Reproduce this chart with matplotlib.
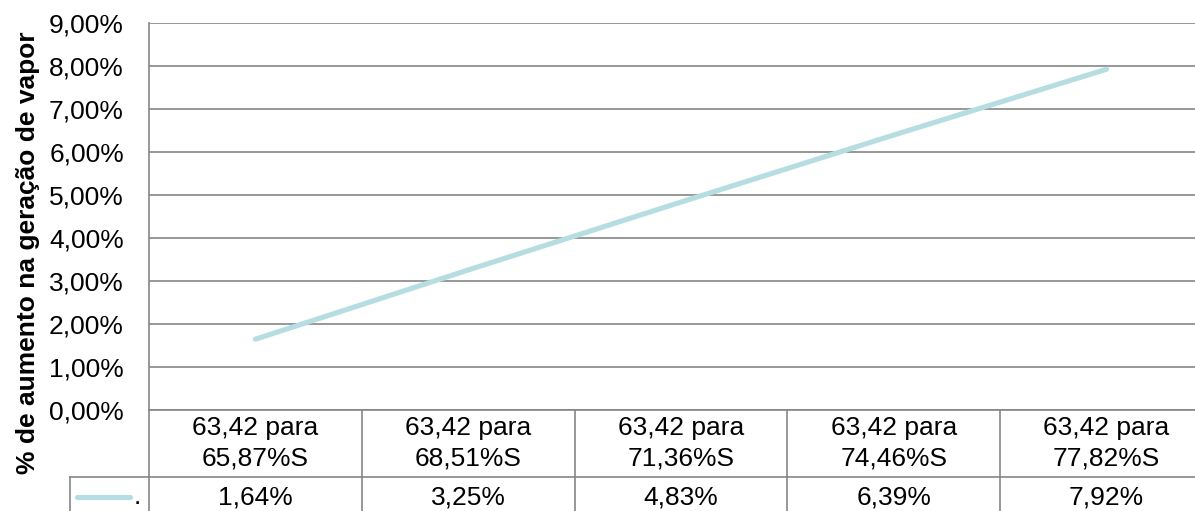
import matplotlib.pyplot as plt
from matplotlib.lines import Line2D
import matplotlib.transforms as mtransforms

plt.rcParams['font.family'] = ['Liberation Sans', 'DejaVu Sans']

# Dados
categorias = ['63,42 para\n65,87%S', '63,42 para\n68,51%S', '63,42 para\n71,36%S',
              '63,42 para\n74,46%S', '63,42 para\n77,82%S']
aumento = [1.64, 3.25, 4.83, 6.39, 7.92]
y_ticks = [0, 1, 2, 3, 4, 5, 6, 7, 8, 9]

cor_linha = '#b6dde1'
cor_grade = '#868686'
fs = 19

fig = plt.figure(figsize=(11.95, 5.11), dpi=100)
ax = fig.add_axes([149 / 1195, 1 - 409.7 / 511, 1064 / 1195, 386.9 / 511])

x = list(range(len(aumento)))
ax.plot(x, aumento, color=cor_linha, lw=3.7, solid_capstyle='round', zorder=3)

ax.set_xlim(-0.5, len(aumento) - 0.5)
ax.set_ylim(0, 9)
ax.set_yticks(y_ticks)
ax.set_yticklabels([f'{v:.2f}'.replace('.', ',') + '%' for v in y_ticks], fontsize=fs)
ax.tick_params(axis='y', length=0, pad=18)
ax.set_xticks([])
ax.grid(axis='y', color=cor_grade, lw=1.2)
ax.set_axisbelow(True)
for lado in ['top', 'right']:
    ax.spines[lado].set_visible(False)
for lado in ['left', 'bottom']:
    ax.spines[lado].set_color(cor_grade)
    ax.spines[lado].set_linewidth(1.2)

ax.set_ylabel('% de aumento na geração de vapor', fontsize=fs, fontweight='bold')
ax.yaxis.set_label_coords(-0.102, 0.405)

# Tabela de dados abaixo do gráfico
trans = mtransforms.blended_transform_factory(ax.transData, ax.transAxes)
y_linha = -0.174
y_fundo = -0.30
for i in range(len(aumento) + 1):
    ax.add_line(Line2D([i - 0.5, i - 0.5], [0, y_fundo], transform=trans,
                       color=cor_grade, lw=1.2, clip_on=False))
x_legenda = -0.871
ax.add_line(Line2D([x_legenda, len(aumento) - 0.5], [y_linha, y_linha], transform=trans,
                   color=cor_grade, lw=1.2, clip_on=False))
ax.add_line(Line2D([x_legenda, x_legenda], [y_linha, y_fundo], transform=trans,
                   color=cor_grade, lw=1.2, clip_on=False))

for i, (cat, val) in enumerate(zip(categorias, aumento)):
    ax.text(i, -0.086, cat, transform=trans, ha='center', va='center',
            fontsize=fs, linespacing=1.35)
    ax.text(i, -0.227, f'{val:.2f}'.replace('.', ',') + '%', transform=trans,
            ha='center', va='center', fontsize=fs)

# Chave da legenda
fig.add_artist(Line2D([77 / 1195, 130 / 1195], [1 - 497 / 511, 1 - 497 / 511],
                      color=cor_linha, lw=3.7, solid_capstyle='round'))
fig.text(134 / 1195, 1 - 497 / 511, '.', fontsize=fs, va='center', ha='left')

fig.savefig('out.png', dpi=100)
